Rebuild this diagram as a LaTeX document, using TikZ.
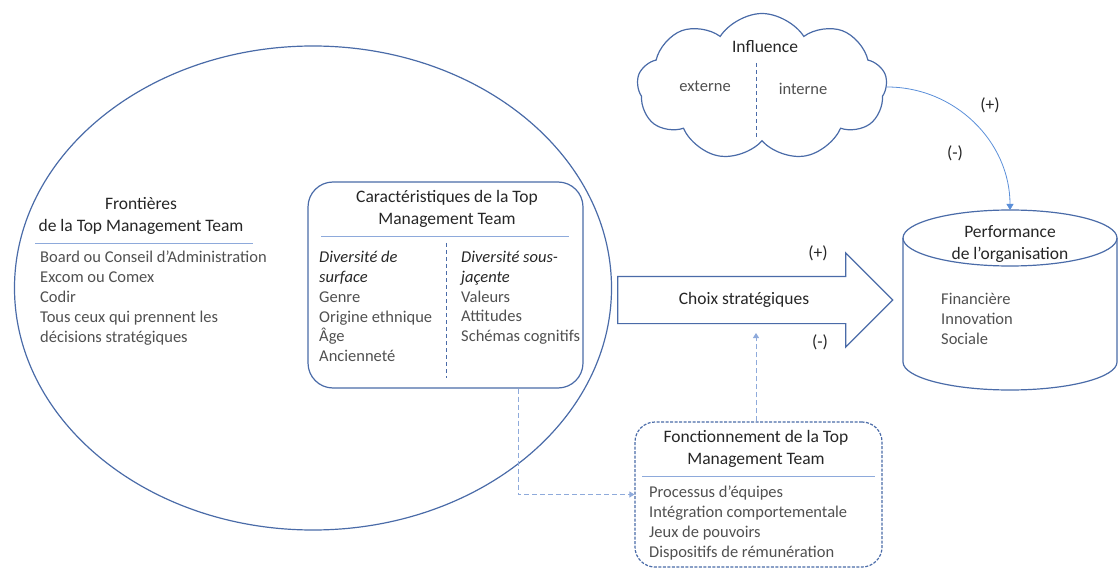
\documentclass[tikz,border=0pt]{standalone}
\usepackage{fontspec}
\setmainfont{Carlito}
\usetikzlibrary{shapes.geometric,shapes.symbols,shapes.arrows,arrows.meta}
\definecolor{tmblue}{HTML}{4A6BA8}
\definecolor{tmlight}{HTML}{8EAADB}
\definecolor{tmarrow}{HTML}{5B8FD9}
\definecolor{tmtext}{HTML}{262626}
\definecolor{tmgrey}{HTML}{505050}
\newcommand\divtxt[1]{\textcolor{tmtext}{\itshape #1}}
\tikzset{
  outline/.style={draw=tmblue,line width=1.2pt},
  titre/.style={text=tmtext,align=center,font=\fontsize{17.5}{22}\selectfont,inner sep=0pt},
  liste/.style={text=tmgrey,align=left,anchor=north west,font=\fontsize{16.5}{19.8}\selectfont,inner sep=0pt},
  sepline/.style={draw=tmlight,line width=0.9pt},
  dashlink/.style={draw=tmlight,line width=1pt,dash pattern=on 5pt off 3pt,-{Triangle[width=6pt,length=5pt]}},
  signe/.style={text=tmtext,font=\fontsize{17.5}{20}\selectfont,inner sep=0pt}
}
\begin{document}
\begin{tikzpicture}[x=1pt,y=-1pt]
\useasboundingbox (0,0) rectangle (1118,569);
\node[ellipse,outline,minimum width=597pt,minimum height=484pt] (frontieres) at (313,288) {};
\node[titre] (fronttitre) at (141,216) {Frontières\\de la Top Management Team};
\draw[sepline] (35,243) -- (253,243);
\node[liste] (frontliste) at (40,251) {Board ou Conseil d’Administration\\Excom ou Comex\\Codir\\Tous ceux qui prennent les\\décisions stratégiques};

\node[outline,rounded corners=25pt,minimum width=275pt,minimum height=206pt] (caract) at (445.5,285) {};
\node[titre] (caracttitre) at (447,208.5) {Caractéristiques de la Top\\Management Team};
\draw[sepline] (321,236) -- (569,236);
\draw[draw=tmblue,line width=1pt,dash pattern=on 4pt off 3pt] (446,243) -- (446,378);
\node[liste] (surface) at (319,251) {\divtxt{Diversité de}\\\divtxt{surface}\\Genre\\Origine ethnique\\Âge\\Ancienneté};
\node[liste] (jacente) at (461,251) {\divtxt{Diversité sous-}\\\divtxt{jaçente}\\Valeurs\\Attitudes\\Schémas cognitifs};

\node[cloud,outline,cloud puffs=9,cloud puff arc=115,aspect=1.7,minimum width=250pt,minimum height=147pt] (influence) at (762,87) {};
\node[titre] (inftitre) at (765,47) {Influence};
\draw[draw=tmblue,line width=1pt,dash pattern=on 4pt off 3pt] (756,63) -- (756,140);
\node[liste,anchor=center] (externe) at (705,86) {externe};
\node[liste,anchor=center] (interne) at (803,89) {interne};

\node[single arrow,outline,minimum height=275pt,single arrow head extend=23.5pt,single arrow tip angle=90,text height=10pt,text depth=3pt,inner ysep=16.5pt,inner xsep=0pt] (choix) at (743.5,300) {};
\node[titre] (choixtxt) at (744,300) {Choix stratégiques};
\node[signe] (choixplus) at (818,253) {(+)};
\node[signe] (choixmoins) at (820,342) {(-)};

\draw[outline] (903,238) -- (903,362) arc[start angle=180,end angle=360,x radius=107pt,y radius=28pt] -- (1117,238) arc[start angle=0,end angle=180,x radius=107pt,y radius=28pt] -- cycle;
\draw[outline] (903,238) arc[start angle=180,end angle=360,x radius=107pt,y radius=28pt];
\coordinate (perfhaut) at (1010,210);
\node[titre] (perftitre) at (1010,244) {Performance\\de l’organisation};
\node[liste] (perfliste) at (941,293) {Financière\\Innovation\\Sociale};

\draw[draw=tmarrow,line width=0.8pt,-{Triangle[width=7pt,length=6pt]}] (influence.east) to[out=0,in=90] (perfhaut);
\node[signe] (infplus) at (990,105) {(+)};
\node[signe] (infmoins) at (955,153) {(-)};

\node[draw=tmblue,line width=1.2pt,dash pattern=on 3pt off 1.5pt,rounded corners=20pt,minimum width=247pt,minimum height=145pt] (fonct) at (758.5,494.5) {};
\node[titre] (foncttitre) at (756,449) {Fonctionnement de la Top\\Management Team};
\draw[sepline] (642,476) -- (875,476);
\node[liste] (fonctliste) at (649,486) {Processus d’équipes\\Intégration comportementale\\Jeux de pouvoirs\\Dispositifs de rémunération};

\coordinate (choixbas) at (756,333);
\draw[dashlink] ([xshift=-2.5pt]fonct.north) -- ([xshift=-2.5pt]fonct.north |- choixbas);
\draw[dashlink] ([xshift=72.5pt]caract.south) |- (fonct.west);
\end{tikzpicture}
\end{document}
